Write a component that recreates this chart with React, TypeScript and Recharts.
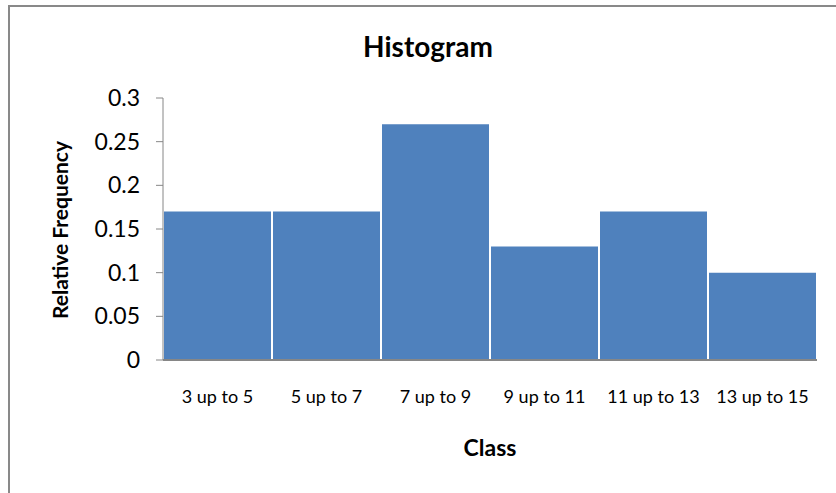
import { BarChart, Bar, XAxis, YAxis } from 'recharts';

const classes = ['3 up to 5', '5 up to 7', '7 up to 9', '9 up to 11', '11 up to 13', '13 up to 15'];
const relFreq = [0.17, 0.17, 0.27, 0.13, 0.17, 0.1];
const yTicks = [0, 0.05, 0.1, 0.15, 0.2, 0.25, 0.3];

const data = classes.map((c, i) => ({ name: c, value: relFreq[i] }));

const font = 'Lato, "Open Sans", sans-serif';
const axisGray = '#868686';

export default function App() {
  return (
    <div
      style={{
        position: 'fixed',
        left: 0,
        top: 0,
        width: 836,
        height: 493,
        overflow: 'hidden',
        background: '#fff',
        fontFamily: font,
      }}
    >
      <div
        style={{
          position: 'absolute',
          left: 8,
          top: 5,
          width: 900,
          height: 600,
          border: '2px solid #898989',
        }}
      />
      <div
        style={{
          position: 'absolute',
          left: 428,
          top: 46,
          transform: 'translate(-50%, -50%)',
          whiteSpace: 'nowrap',
          fontSize: 28,
          fontWeight: 700,
          color: '#000',
        }}
      >
        Histogram
      </div>
      <div
        style={{
          position: 'absolute',
          left: 59,
          top: 230,
          transform: 'translate(-50%, -50%) rotate(-90deg)',
          whiteSpace: 'nowrap',
          fontSize: 21,
          fontWeight: 700,
          color: '#000',
        }}
      >
        Relative Frequency
      </div>
      <div
        style={{
          position: 'absolute',
          left: 490,
          top: 447,
          transform: 'translate(-50%, -50%)',
          fontSize: 23,
          fontWeight: 700,
          color: '#000',
        }}
      >
        Class
      </div>
      <div style={{ position: 'absolute', left: 0, top: 0 }}>
        <BarChart
          width={836}
          height={493}
          data={data}
          margin={{ top: 98, right: 19, bottom: 93, left: 93 }}
          barCategoryGap={1}
        >
          <XAxis
            dataKey="name"
            height={40}
            tickLine={false}
            tickSize={0}
            tickMargin={30}
            axisLine={{ stroke: axisGray, strokeWidth: 2 }}
            tick={{ fill: '#000', fontSize: 18, fontFamily: font }}
            interval={0}
          />
          <YAxis
            width={70}
            domain={[0, 0.3]}
            ticks={yTicks}
            tickSize={7}
            tickMargin={16}
            axisLine={{ stroke: axisGray, strokeWidth: 1 }}
            tickLine={{ stroke: axisGray }}
            tick={{ fill: '#000', fontSize: 23, fontFamily: font }}
          />
          <Bar dataKey="value" fill="#4F81BD" isAnimationActive={false} />
        </BarChart>
      </div>
    </div>
  );
}
